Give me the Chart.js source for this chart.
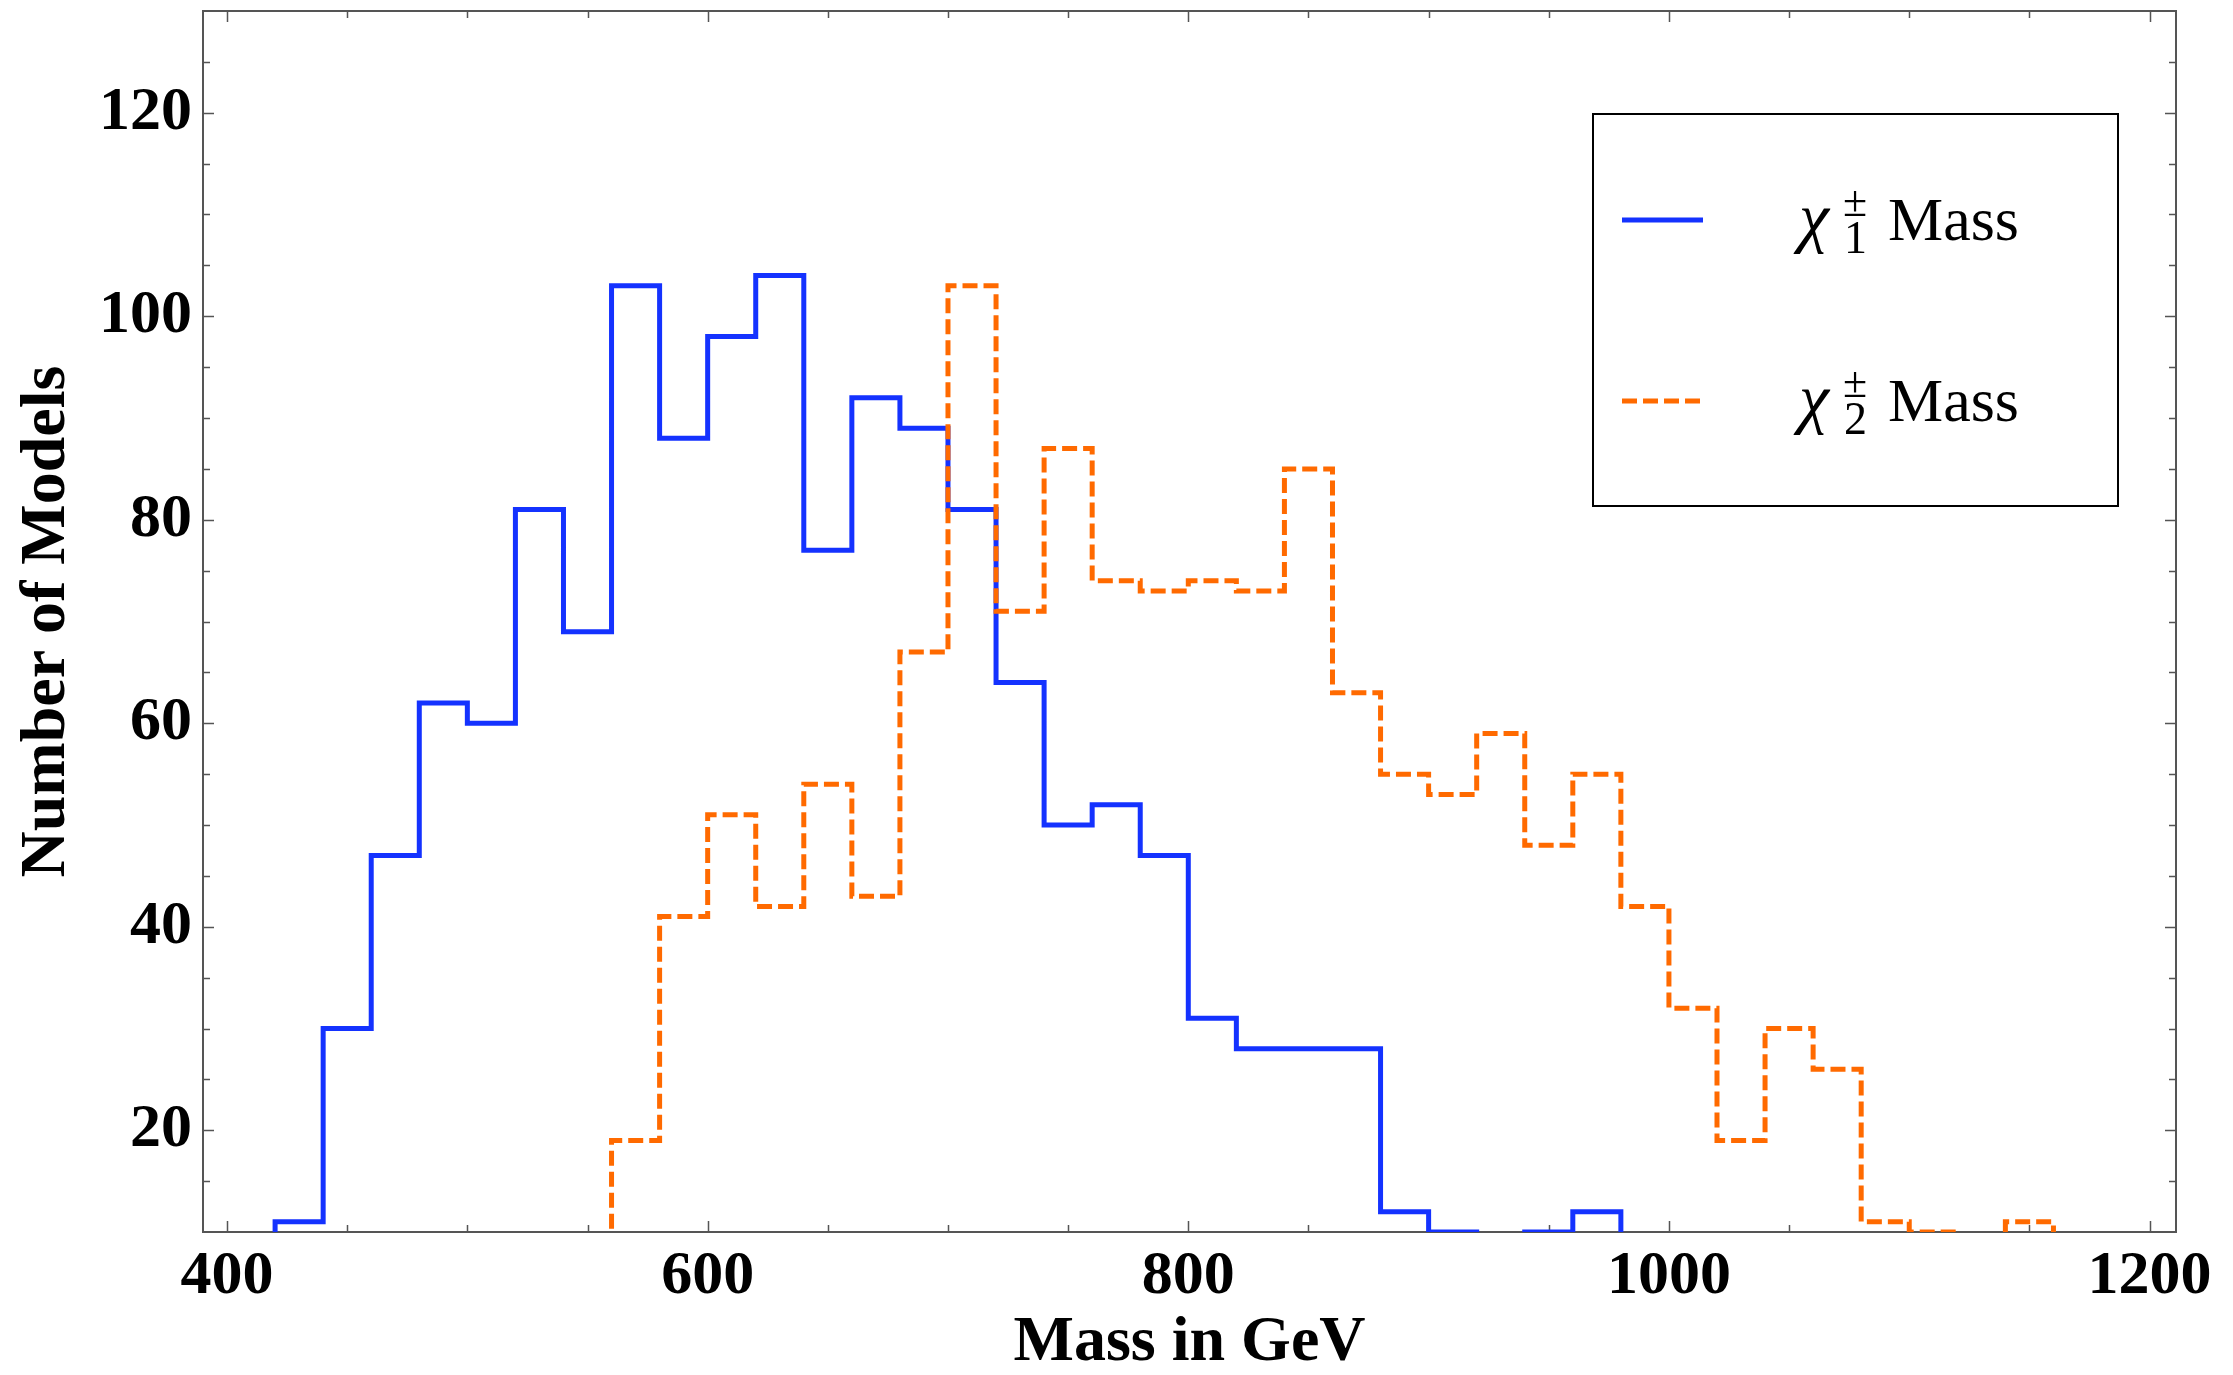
<!DOCTYPE html>
<html>
<head>
<meta charset="utf-8">
<script src="https://cdn.jsdelivr.net/npm/chart.js@4.4.0/dist/chart.umd.min.js"></script>
<style>
  html, body { margin: 0; padding: 0; background: #fff; }
  #wrap { width: 2233px; height: 1375px; position: relative; }
</style>
</head>
<body>
<div id="wrap"><canvas id="chart"></canvas></div>
<script>
// Histogram data (bin edges in GeV, counts per 20 GeV bin)
let blueEdges = [420, 440, 460, 480, 500, 520, 540, 560, 580, 600, 620, 640, 660, 680, 700,
                 720, 740, 760, 780, 800, 820, 840, 860, 880, 900, 920, 940, 960, 980];
let blueCounts = [11, 30, 47, 62, 60, 81, 69, 103, 88, 98, 104, 77, 92, 89,
                  81, 64, 50, 52, 47, 31, 28, 28, 28, 12, 10, 9, 10, 12];

let orangeEdges = [560, 580, 600, 620, 640, 660, 680, 700, 720, 740, 760, 780, 800, 820, 840, 860,
                   880, 900, 920, 940, 960, 980, 1000, 1020, 1040, 1060, 1080, 1100, 1120, 1140, 1160];
let orangeCounts = [19, 41, 51, 42, 54, 43, 67, 103, 71, 87, 74, 73, 74, 73, 85,
                    63, 55, 53, 59, 48, 55, 42, 32, 19, 30, 26, 11, 10, 9, 11];

// Tick labels
let xTicks = [400, 600, 800, 1000, 1200];
let yTicks = [20, 40, 60, 80, 100, 120];
let legendSubs = ["1", "2"];

let chartCanvas = document.getElementById("chart");
let serif = "'Liberation Serif', 'Times New Roman', serif";
let frameColor = "#555";
let blue = "#1432ff";
let orange = "#ff6a00";

// Turn bins into an outline (step) path, dropping to the floor at both ends
function stepPoints(edges, counts) {
    let pts = [{ x: edges[0], y: 0 }];
    counts.forEach((c, i) => pts.push({ x: edges[i], y: c }));
    let last = edges[edges.length - 1];
    pts.push({ x: last, y: counts[counts.length - 1] });
    pts.push({ x: last, y: 0 });
    return pts;
}

// Frame with inward ticks on all four sides
let framePlugin = {
    id: "frame",
    beforeDatasetsDraw(chart) {
        let ctx = chart.ctx;
        let a = chart.chartArea;
        let xs = chart.scales.x;
        let ys = chart.scales.y;
        ctx.save();
        ctx.strokeStyle = frameColor;
        ctx.lineWidth = 2;
        ctx.strokeRect(a.left, a.top, a.right - a.left, a.bottom - a.top);
        ctx.lineWidth = 1.5;
        ctx.beginPath();
        for (let v = 400; v <= 1200; v += 50) {
            let len = xTicks.includes(v) ? 11 : 7;
            let px = Math.round(xs.getPixelForValue(v)) + 0.5;
            ctx.moveTo(px, a.bottom); ctx.lineTo(px, a.bottom - len);
            ctx.moveTo(px, a.top); ctx.lineTo(px, a.top + len);
        }
        for (let v = 15; v < 130; v += 5) {
            let len = yTicks.includes(v) ? 11 : 7;
            let py = Math.round(ys.getPixelForValue(v)) + 0.5;
            ctx.moveTo(a.left, py); ctx.lineTo(a.left + len, py);
            ctx.moveTo(a.right, py); ctx.lineTo(a.right - len, py);
        }
        ctx.stroke();
        ctx.restore();
    }
};

// Legend box with chi symbols (sub/superscripts)
let legendPlugin = {
    id: "chiLegend",
    afterDraw(chart) {
        let ctx = chart.ctx;
        ctx.save();
        ctx.strokeStyle = "#000";
        ctx.lineWidth = 2;
        ctx.strokeRect(1593, 114, 525, 392);
        let rows = [220, 401];
        let bases = [240, 421];
        let colors = [blue, orange];
        let dashes = [[], [15, 6]];
        rows.forEach((y, i) => {
            ctx.strokeStyle = colors[i];
            ctx.lineWidth = 5;
            ctx.setLineDash(dashes[i]);
            ctx.beginPath();
            ctx.moveTo(1622, y);
            ctx.lineTo(1703, y);
            ctx.stroke();
            ctx.setLineDash([]);
            let base = bases[i];
            ctx.fillStyle = "#000";
            ctx.textBaseline = "alphabetic";
            ctx.textAlign = "left";
            ctx.font = "italic 68px " + serif;
            ctx.fillText("\u03c7", 1799, base);
            ctx.font = "44px " + serif;
            ctx.fillText("\u00b1", 1843, base - 24);
            ctx.font = "46px " + serif;
            ctx.fillText(legendSubs[i], 1844, base + 13);
            ctx.font = "62px " + serif;
            ctx.fillText("Mass", 1888, base);
        });
        ctx.restore();
    }
};

let chart = new Chart(chartCanvas, {
    type: "line",
    data: {
        datasets: [
            {
                label: "chi1 Mass",
                data: stepPoints(blueEdges, blueCounts),
                borderColor: blue,
                borderWidth: 5,
                stepped: true,
                pointRadius: 0,
                fill: false,
                order: 1,
                clip: { left: 10, right: 10, top: 10, bottom: 0 }
            },
            {
                label: "chi2 Mass",
                data: stepPoints(orangeEdges, orangeCounts),
                borderColor: orange,
                borderWidth: 5,
                borderDash: [15, 6],
                stepped: true,
                pointRadius: 0,
                fill: false,
                order: 0,
                clip: { left: 10, right: 10, top: 10, bottom: 0 }
            }
        ]
    },
    options: {
        responsive: true,
        maintainAspectRatio: false,
        animation: false,
        devicePixelRatio: 1,
        layout: { padding: { left: 0, right: 57, top: 11, bottom: 0 } },
        plugins: {
            legend: { display: false },
            tooltip: { enabled: false }
        },
        scales: {
            x: {
                type: "linear",
                min: 390,
                max: 1211,
                afterBuildTicks: s => { s.ticks = xTicks.map(v => ({ value: v })); },
                afterFit: s => { s.height = 143; s.paddingLeft = 0; s.paddingRight = 0; },
                grid: { display: false, drawTicks: false },
                border: { display: false },
                ticks: {
                    color: "#000",
                    padding: 8,
                    maxRotation: 0,
                    autoSkip: false,
                    callback: v => String(v),
                    font: { family: serif, size: 62, weight: "bold" }
                },
                title: {
                    display: true,
                    text: "Mass in GeV",
                    color: "#000",
                    padding: { top: 0, bottom: 0 },
                    font: { family: serif, size: 64, weight: "bold", lineHeight: 1 }
                }
            },
            y: {
                type: "linear",
                min: 10,
                max: 130,
                afterBuildTicks: s => { s.ticks = yTicks.map(v => ({ value: v })); },
                afterFit: s => { s.width = 203; s.paddingTop = 0; s.paddingBottom = 0; },
                grid: { display: false, drawTicks: false },
                border: { display: false },
                ticks: {
                    color: "#000",
                    padding: 11,
                    callback: v => String(v),
                    font: { family: serif, size: 62, weight: "bold" }
                },
                title: {
                    display: true,
                    text: "Number of Models",
                    color: "#000",
                    padding: { top: 15, bottom: 0 },
                    font: { family: serif, size: 64, weight: "bold", lineHeight: 1 }
                }
            }
        }
    },
    plugins: [framePlugin, legendPlugin]
});
</script>
</body>
</html>
